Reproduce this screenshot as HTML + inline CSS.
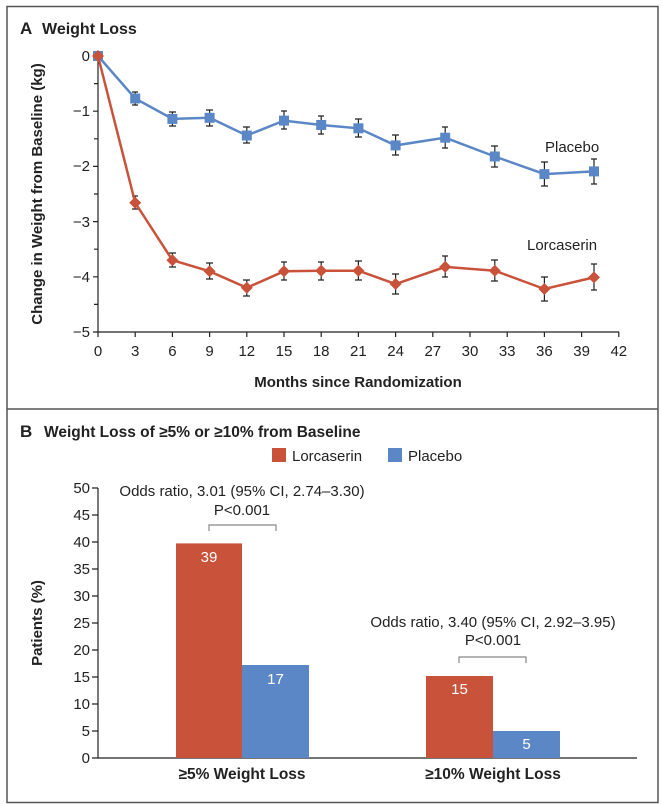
<!DOCTYPE html><html><head><meta charset="utf-8"><style>body{margin:0;background:#fff}svg{display:block;font-family:"Liberation Sans",sans-serif}</style></head><body>
<svg width="662" height="805" viewBox="0 0 662 805">
<rect x="7" y="6.5" width="651" height="796" fill="#fff" stroke="#555" stroke-width="1.5"/>
<line x1="7" y1="409" x2="658" y2="409" stroke="#555" stroke-width="1.5"/>
<text x="20" y="34" font-size="17" font-weight="bold" fill="#222">A</text>
<text x="42" y="34" font-size="16" font-weight="bold" fill="#222">Weight Loss</text>
<g stroke="#222" stroke-width="1.2" fill="none">
<line x1="98" y1="56" x2="98" y2="332"/><line x1="98" y1="332" x2="619" y2="332"/>
<path d="M93 56h5M94 83.6h4M93 111.2h5M94 138.8h4M93 166.4h5M94 194h4M93 221.6h5M94 249.2h4M93 276.8h5M94 304.4h4M93 332h5"/>
<path d="M98 332v5M135.2 332v5M172.4 332v5M209.6 332v5M246.8 332v5M284 332v5M321.2 332v5M358.4 332v5M395.6 332v5M432.8 332v5M470 332v5M507.2 332v5M544.4 332v5M581.6 332v5M618.8 332v5"/>
</g>
<g font-size="15" fill="#222" text-anchor="end">
<text x="90" y="61">0</text><text x="90" y="116">−1</text><text x="90" y="171">−2</text><text x="90" y="227">−3</text><text x="90" y="282">−4</text><text x="90" y="337">−5</text></g>
<g font-size="15" fill="#222" text-anchor="middle">
<text x="98" y="356">0</text><text x="135.2" y="356">3</text><text x="172.4" y="356">6</text><text x="209.6" y="356">9</text><text x="246.8" y="356">12</text><text x="284" y="356">15</text><text x="321.2" y="356">18</text><text x="358.4" y="356">21</text><text x="395.6" y="356">24</text><text x="432.8" y="356">27</text><text x="470" y="356">30</text><text x="507.2" y="356">33</text><text x="544.4" y="356">36</text><text x="581.6" y="356">39</text><text x="618.8" y="356">42</text></g>
<text x="358" y="387" font-size="15" font-weight="bold" fill="#222" text-anchor="middle">Months since Randomization</text>
<text transform="translate(42,194) rotate(-90)" font-size="15" font-weight="bold" fill="#222" text-anchor="middle">Change in Weight from Baseline (kg)</text>
<g stroke="#222" stroke-width="1.2">
<path d="M135.2 92v13M132 92h6M132 105h6M172.4 112v14M169 112h7M169 126h7M209.6 110v16M206 110h7M206 126h7M246.8 127v16M243 127h7M243 143h7M284 111v18M281 111h6M281 129h6M321.2 116v18M318 116h6M318 134h6M358.4 119v18M355 119h7M355 137h7M395.6 135v20M392 135h7M392 155h7M445.2 127v21M442 127h6M442 148h6M494.8 146v21M491 146h7M491 167h7M544.4 162v24M541 162h7M541 186h7M594 159v25M591 159h6M591 184h6"/>
<path d="M135.2 196v13M132 196h6M132 209h6M172.4 253v14M169 253h7M169 267h7M209.6 263v16M206 263h7M206 279h7M246.8 280v16M243 280h7M243 296h7M284 262v18M281 262h6M281 280h6M321.2 262v18M318 262h6M318 280h6M358.4 261v19M355 261h7M355 280h7M395.6 274v20M392 274h7M392 294h7M445.2 256v21M442 256h6M442 277h6M494.8 260v21M491 260h7M491 281h7M544.4 277v24M541 277h7M541 301h7M594 264v26M591 264h6M591 290h6"/>
</g>
<polyline fill="none" stroke="#5b87c6" stroke-width="2.5" points="98,56 135.2,98.5 172.4,118.9 209.6,117.8 246.8,135.5 284,120.6 321.2,125 358.4,128.3 395.6,145.4 445.2,137.7 494.8,156.5 544.4,174.1 594,171.4"/>
<g fill="#5b87c6">
<rect x="93" y="51" width="10" height="10"/><rect x="130.2" y="93.5" width="10" height="10"/><rect x="167.4" y="113.9" width="10" height="10"/><rect x="204.6" y="112.8" width="10" height="10"/><rect x="241.8" y="130.5" width="10" height="10"/><rect x="279" y="115.6" width="10" height="10"/><rect x="316.2" y="120" width="10" height="10"/><rect x="353.4" y="123.3" width="10" height="10"/><rect x="390.6" y="140.4" width="10" height="10"/><rect x="440.2" y="132.7" width="10" height="10"/><rect x="489.8" y="151.5" width="10" height="10"/><rect x="539.4" y="169.1" width="10" height="10"/><rect x="589" y="166.4" width="10" height="10"/></g>
<polyline fill="none" stroke="#c9523a" stroke-width="2.5" points="98,56 135.2,202.8 172.4,260.2 209.6,271.3 246.8,287.8 284,271.3 321.2,270.7 358.4,270.7 395.6,284 445.2,266.9 494.8,270.7 544.4,289 594,277.4"/>
<g fill="#c9523a">
<path d="M98 50l6 6-6 6-6-6z"/><path d="M135.2 196.8l6 6-6 6-6-6z"/><path d="M172.4 254.2l6 6-6 6-6-6z"/><path d="M209.6 265.3l6 6-6 6-6-6z"/><path d="M246.8 281.8l6 6-6 6-6-6z"/><path d="M284 265.3l6 6-6 6-6-6z"/><path d="M321.2 264.7l6 6-6 6-6-6z"/><path d="M358.4 264.7l6 6-6 6-6-6z"/><path d="M395.6 278l6 6-6 6-6-6z"/><path d="M445.2 260.9l6 6-6 6-6-6z"/><path d="M494.8 264.7l6 6-6 6-6-6z"/><path d="M544.4 283l6 6-6 6-6-6z"/><path d="M594 271.4l6 6-6 6-6-6z"/></g>
<text x="545" y="152" font-size="15" fill="#222">Placebo</text>
<text x="527" y="250" font-size="15" fill="#222">Lorcaserin</text>

<text x="20" y="437" font-size="17" font-weight="bold" fill="#222">B</text>
<text x="44" y="437" font-size="15.5" font-weight="bold" fill="#222">Weight Loss of ≥5% or ≥10% from Baseline</text>
<rect x="272" y="448" width="14" height="14" fill="#c9523a"/><text x="292" y="461" font-size="15" fill="#222">Lorcaserin</text>
<rect x="388" y="448" width="14" height="14" fill="#5b87c6"/><text x="408" y="461" font-size="15" fill="#222">Placebo</text>
<g stroke="#222" stroke-width="1.2" fill="none">
<line x1="98" y1="488" x2="98" y2="758"/><line x1="98" y1="758" x2="637" y2="758"/>
<path d="M92 488h6M92 515h6M92 542h6M92 569h6M92 596h6M92 623h6M92 650h6M92 677h6M92 704h6M92 731h6M92 758h6"/></g>
<g font-size="15" fill="#222" text-anchor="end">
<text x="90" y="493">50</text><text x="90" y="520">45</text><text x="90" y="547">40</text><text x="90" y="574">35</text><text x="90" y="601">30</text><text x="90" y="628">25</text><text x="90" y="655">20</text><text x="90" y="682">15</text><text x="90" y="709">10</text><text x="90" y="736">5</text><text x="90" y="763">0</text></g>
<text transform="translate(42,623) rotate(-90)" font-size="15" font-weight="bold" fill="#222" text-anchor="middle">Patients (%)</text>
<rect x="176" y="543.4" width="66" height="214.6" fill="#c9523a"/>
<rect x="242" y="665" width="67" height="93" fill="#5b87c6"/>
<rect x="426" y="676" width="67" height="82" fill="#c9523a"/>
<rect x="493" y="731" width="67" height="27" fill="#5b87c6"/>
<g font-size="15" fill="#fff" text-anchor="middle"><text x="209" y="562">39</text><text x="275.5" y="684">17</text><text x="459.5" y="694">15</text><text x="526.5" y="749">5</text></g>
<g font-size="15" fill="#222" text-anchor="middle">
<text x="242" y="496">Odds ratio, 3.01 (95% CI, 2.74–3.30)</text><text x="242" y="515">P&lt;0.001</text>
<text x="493" y="627">Odds ratio, 3.40 (95% CI, 2.92–3.95)</text><text x="493" y="645">P&lt;0.001</text></g>
<path d="M209 531v-6h67v6M459 663v-6h67v6" fill="none" stroke="#888" stroke-width="1.2"/>
<g font-size="15.5" font-weight="bold" fill="#222" text-anchor="middle"><text x="242" y="779">≥5% Weight Loss</text><text x="493" y="779">≥10% Weight Loss</text></g>
</svg></body></html>
